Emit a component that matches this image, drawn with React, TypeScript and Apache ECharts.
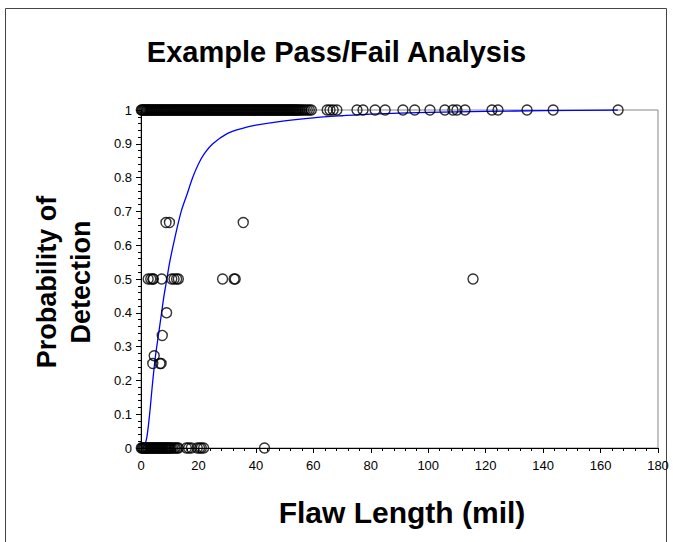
import React, { useEffect, useRef } from "react";
import * as echarts from "echarts";

// Flaw lengths of inspections with POD = 1 (all hits) – dense band
const hitLengths = [
  0.1, 0.4, 0.7, 1.1, 1.4, 1.8, 2.1, 2.4, 2.8, 3.1, 3.5, 3.8, 4.2, 4.5, 4.9, 5.2, 5.6, 5.9, 6.3, 6.6,
  7.0, 7.3, 7.7, 8.0, 8.4, 8.7, 9.1, 9.4, 9.8, 10.1, 10.5, 10.8, 11.2, 11.5, 11.9, 12.2, 12.6, 12.9,
  13.3, 13.6, 14.0, 14.3, 14.7, 15.0, 15.4, 15.7, 16.1, 16.4, 16.8, 17.1, 17.5, 17.8, 18.2, 18.5,
  18.9, 19.2, 19.6, 19.9, 20.3, 20.6, 21.0, 21.3, 21.7, 22.0, 22.4, 22.7, 23.1, 23.4, 23.8, 24.1,
  24.5, 24.8, 25.2, 25.5, 25.9, 26.2, 26.6, 26.9, 27.3, 27.6, 28.0, 28.3, 28.7, 29.0, 29.4, 29.7,
  30.1, 30.4, 30.8, 31.1, 31.5, 31.8, 32.2, 32.5, 32.9, 33.2, 33.6, 33.9, 34.3, 34.6, 35.0, 35.3,
  35.7, 36.0, 36.4, 36.7, 37.1, 37.4, 37.8, 38.1, 38.5, 38.8, 39.2, 39.5, 39.9, 40.2, 40.6, 40.9,
  41.3, 41.6, 42.0, 42.3, 42.7, 43.0, 43.4, 43.7, 44.1, 44.4, 44.8, 45.1, 45.5, 45.8, 46.2, 46.5,
  46.9, 47.2, 47.6, 47.9, 48.3, 48.6, 49.0, 49.3, 49.7, 50.0, 50.4, 50.7, 51.1, 51.4, 51.8, 52.1,
  52.5, 52.8, 53.2, 53.5, 53.9, 54.2, 54.6, 55.0, 55.5, 56.0, 56.6, 57.2, 57.9, 58.6, 59.3,
  64.8, 65.8, 66.9, 68.2, 75.2, 77.3, 81.5, 85.0, 91.2, 95.3, 100.6, 105.8, 108.6, 110.0, 112.8,
  122.2, 124.3, 134.4, 143.5, 166.1,
];

// Flaw lengths with POD = 0 (all misses)
const missLengths = [
  0.1, 0.4, 0.7, 1.0, 1.3, 1.7, 2.0, 2.3, 2.6, 3.0, 3.3, 3.6, 3.9, 4.3, 4.6, 4.9, 5.2, 5.6, 5.9,
  6.2, 6.5, 6.9, 7.2, 7.5, 7.8, 8.2, 8.5, 8.8, 9.1, 9.5, 9.8, 10.1, 10.5, 11.0, 11.6, 12.0, 12.6,
  13.0, 15.8, 16.6, 17.5, 19.6, 20.4, 21.0, 21.8, 43.0,
];

// Partial hit ratios
const partialLengths = [
  8.7, 9.9, 35.6, 2.5, 3.4, 4.1, 4.3, 7.2, 10.7, 11.5, 12.4, 13.0, 28.4, 32.4, 32.8, 115.6, 8.9,
  7.4, 4.6, 4.1, 6.6, 7.0,
];
const partialPod = [
  0.667, 0.667, 0.667, 0.5, 0.5, 0.5, 0.5, 0.5, 0.5, 0.5, 0.5, 0.5, 0.5, 0.5, 0.5, 0.5, 0.4,
  0.333, 0.273, 0.25, 0.25, 0.25,
];

// Fitted POD curve
const curveLength = [0, 1, 2, 3, 4, 5, 6, 7, 8, 9, 10, 12, 14, 16, 18, 20, 22, 25, 30, 35, 40, 50, 60, 70, 80, 100, 120, 140, 166];
const curvePod = [0, 0.003, 0.03, 0.1, 0.19, 0.27, 0.33, 0.39, 0.45, 0.5, 0.55, 0.63, 0.7, 0.75, 0.8, 0.84, 0.87, 0.9, 0.93, 0.945, 0.955, 0.968, 0.977, 0.983, 0.988, 0.993, 0.996, 0.998, 1.0];

const xTicks = { min: 0, max: 180, interval: 20 };
const yTicks = { min: 0, max: 1, interval: 0.1 };

const FONT = "Liberation Sans, Arial, sans-serif";

export default function App() {
  const ref = useRef<HTMLDivElement>(null);
  useEffect(() => {
    if (!ref.current) return;
    const chart = echarts.init(ref.current, undefined, { renderer: "svg" });
    const points: number[][] = [];
    hitLengths.forEach((x) => points.push([x, 1]));
    missLengths.forEach((x) => points.push([x, 0]));
    partialLengths.forEach((x, i) => points.push([x, partialPod[i]]));
    const curve = curveLength.map((x, i) => [x, curvePod[i]]);

    chart.setOption({
      animation: false,
      backgroundColor: "#fff",
      title: {
        text: "Example Pass/Fail Analysis",
        left: "center",
        top: 32,
        textStyle: { fontSize: 29, fontWeight: "bold", fontFamily: FONT, color: "#000" },
      },
      grid: {
        left: 141,
        right: 15,
        top: 110,
        bottom: 94,
        show: true,
        borderColor: "#888",
        borderWidth: 1,
        backgroundColor: "transparent",
      },
      xAxis: {
        type: "value",
        min: xTicks.min,
        max: xTicks.max,
        interval: xTicks.interval,
        axisLine: { onZero: false, lineStyle: { color: "#000", width: 1 } },
        axisTick: { show: true, inside: false, length: 5, lineStyle: { color: "#000" } },
        minorTick: { show: true, splitNumber: 5, length: 3, lineStyle: { color: "#000" } },
        splitLine: { show: false },
        axisLabel: { fontSize: 13, color: "#000", fontFamily: FONT, margin: 11 },
      },
      yAxis: {
        type: "value",
        min: yTicks.min,
        max: yTicks.max,
        interval: yTicks.interval,
        axisLine: { show: true, onZero: false, lineStyle: { color: "#000", width: 1 } },
        axisTick: { show: true, inside: false, length: 5, lineStyle: { color: "#000" } },
        minorTick: { show: true, splitNumber: 5, length: 3, lineStyle: { color: "#000" } },
        splitLine: { show: false },
        axisLabel: { fontSize: 13, color: "#000", fontFamily: FONT, margin: 9 },
      },
      graphic: [
        {
          type: "rect",
          shape: { x: 5.5, y: 8.5, width: 661, height: 560 },
          style: { fill: "none", stroke: "#444", lineWidth: 1 },
          silent: true,
        },
        {
          type: "text",
          x: 64,
          y: 282,
          rotation: Math.PI / 2,
          style: {
            text: "Probability of\nDetection",
            fontSize: 27,
            fontWeight: "bold",
            fontFamily: FONT,
            fill: "#000",
            align: "center",
            verticalAlign: "middle",
            lineHeight: 34,
          },
        },
        {
          type: "text",
          x: 402,
          y: 512,
          style: {
            text: "Flaw Length (mil)",
            fontSize: 30,
            fontWeight: "bold",
            fontFamily: FONT,
            fill: "#000",
            align: "center",
            verticalAlign: "middle",
          },
        },
      ],
      series: [
        {
          type: "line",
          data: curve,
          showSymbol: false,
          smooth: 0.3,
          lineStyle: { color: "#0000ff", width: 1.3 },
          z: 2,
        },
        {
          type: "scatter",
          data: points,
          symbol: "circle",
          symbolSize: 10,
          clip: false,
          itemStyle: { color: "transparent", borderColor: "#000", borderWidth: 1.4 },
          z: 3,
        },
      ],
    });
    return () => chart.dispose();
  }, []);
  return (
    <div
      ref={ref}
      style={{ position: "absolute", left: 0, top: 0, width: 673, height: 542 }}
    />
  );
}
